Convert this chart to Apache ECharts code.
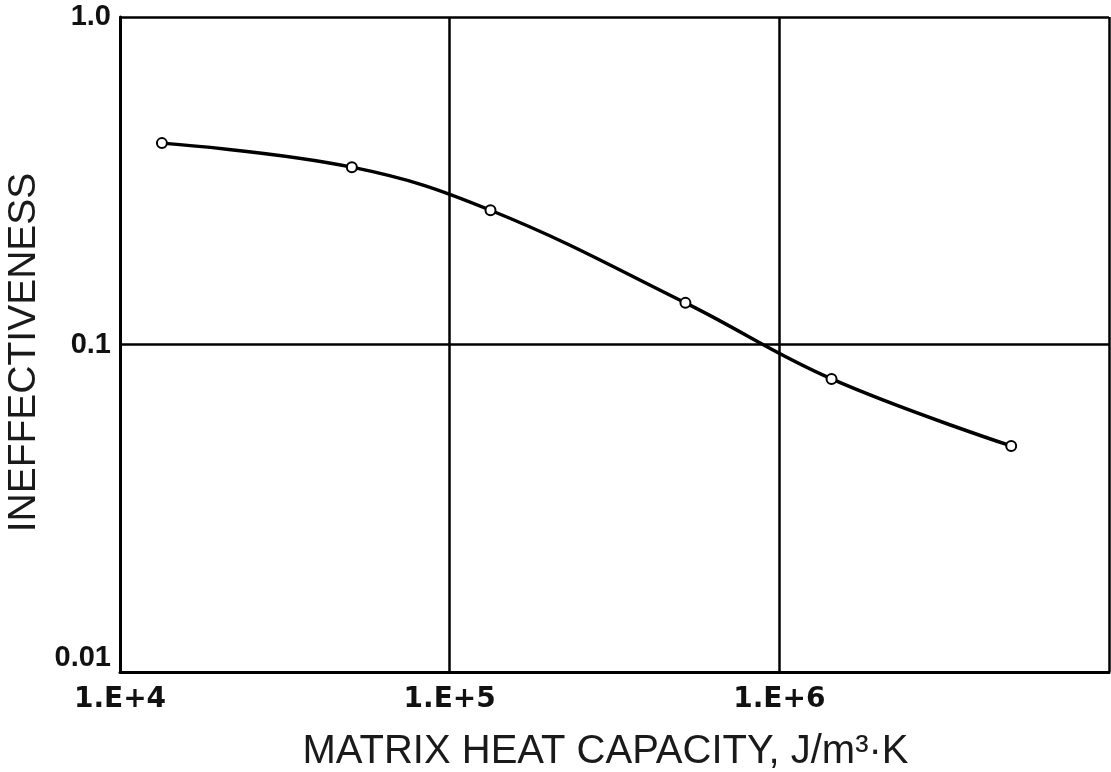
<!DOCTYPE html>
<html>
<head>
<meta charset="utf-8">
<script src="https://cdn.jsdelivr.net/npm/echarts@6/dist/echarts.min.js"></script>
<style>html,body{margin:0;padding:0;background:#fff;}#c{width:1111px;height:772px;}</style>
</head>
<body>
<div id="c"></div>
<script>
var heatCapacity = [1.34e4, 5.05e4, 1.33e5, 5.19e5, 1.44e6, 5.05e6];
var ineffectiveness = [0.412, 0.348, 0.257, 0.134, 0.0785, 0.049];
var xTickLabels = {'4': '1.E+4', '5': '1.E+5', '6': '1.E+6', '7': ''};
var yTickLabels = {'0': '1.0', '-1': '0.1', '-2': '0.01'};
var xTitle = 'MATRIX HEAT CAPACITY, J/m\u00B3\u00B7K';
var yTitle = 'INEFFECTIVENESS';

var chart = echarts.init(document.getElementById('c'), null, {renderer: 'canvas'});
var points = heatCapacity.map(function (x, i) { return [x, ineffectiveness[i]]; });
chart.setOption({
  backgroundColor: '#fff',
  animation: false,
  grid: {left: 120, right: 2, top: 17, bottom: 100, containLabel: false, outerBoundsMode: 'none'},
  xAxis: {
    type: 'log', logBase: 10, min: 1e4, max: 1e7,
    name: xTitle, nameLocation: 'middle', nameGap: 60,
    nameTextStyle: {fontFamily: 'Liberation Sans', fontSize: 40, color: '#1a1a1a', padding: [0, 18, 0, 0]},
    axisLine: {show: true, lineStyle: {color: '#000', width: 3}},
    axisTick: {show: false},
    splitLine: {show: true, lineStyle: {color: '#000', width: 2.5}},
    axisLabel: {
      margin: 14,
      fontFamily: 'DejaVu Sans', fontWeight: 'bold', fontSize: 28, color: '#111',
      formatter: function (v) { var k = String(Math.round(Math.log10(v))); return xTickLabels[k] !== undefined ? xTickLabels[k] : ''; }
    }
  },
  yAxis: {
    type: 'log', logBase: 10, min: 0.01, max: 1,
    name: yTitle, nameLocation: 'middle', nameGap: 70, nameRotate: 90,
    nameTextStyle: {fontFamily: 'Liberation Sans', fontSize: 39, color: '#1a1a1a', padding: [0, 16, 0, 0]},
    axisLine: {show: true, lineStyle: {color: '#000', width: 3}},
    axisTick: {show: false},
    splitLine: {show: true, lineStyle: {color: '#000', width: 2.5}},
    axisLabel: {
      margin: 9,
      fontFamily: 'Liberation Sans', fontWeight: 'bold', fontSize: 29, color: '#111',
      verticalAlignMinLabel: 'bottom',
      formatter: function (v) { var k = String(Math.round(Math.log10(v))); return yTickLabels[k] !== undefined ? yTickLabels[k] : ''; }
    }
  },
  series: [{
    type: 'line',
    data: points,
    smooth: 0.4,
    symbol: 'circle',
    symbolSize: 10,
    showSymbol: true,
    lineStyle: {color: '#000', width: 3.5},
    itemStyle: {color: '#fff', borderColor: '#000', borderWidth: 2}
  }]
});
</script>
</body>
</html>
